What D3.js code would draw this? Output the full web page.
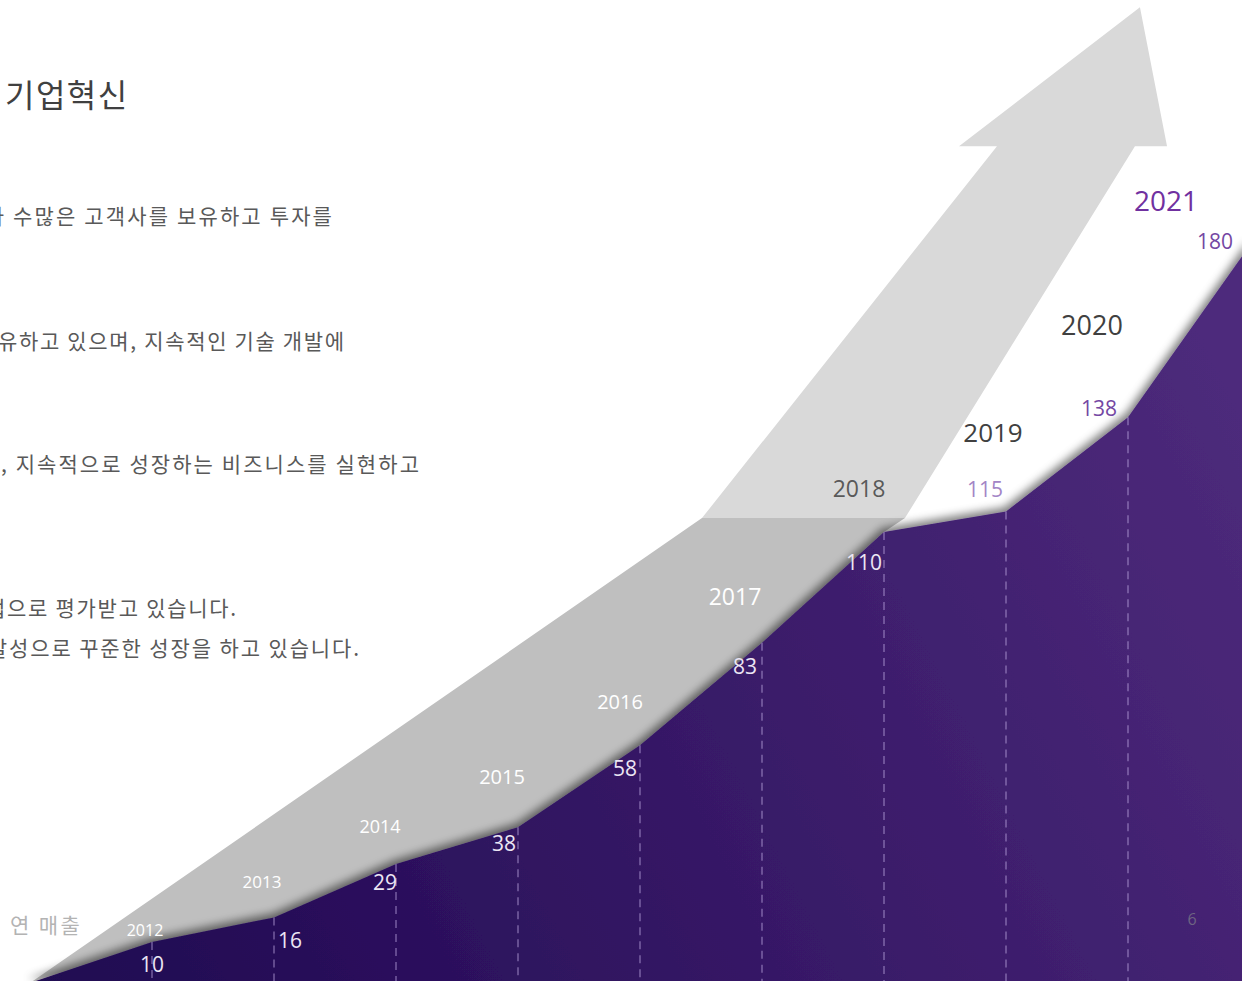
<!DOCTYPE html>
<html><head><meta charset="utf-8">
<script src="https://cdn.jsdelivr.net/npm/d3@7"></script>
<style>html,body{margin:0;padding:0;background:#fff;overflow:hidden}</style>
</head><body>
<svg id="c" width="1242" height="981"></svg>
<script>
// ---------- data ----------
const years = [2011, 2012, 2013, 2014, 2015, 2016, 2017, 2018, 2019, 2020, 2021];
const revenue = [0, 10, 16, 29, 38, 58, 83, 110, 115, 138, 180];
const yearLabels = ["2012", "2013", "2014", "2015", "2016", "2017", "2018", "2019", "2020", "2021"];
const valueLabels = ["10", "16", "29", "38", "58", "83", "110", "115", "138", "180"];
const titleText = "기업혁신";
const bodyPrefix = ["가 ", "보", "하며", "업", "발"];
const bodyText = ["수많은 고객사를 보유하고 투자를", "유하고 있으며, 지속적인 기술 개발에", ", 지속적으로 성장하는 비즈니스를 실현하고", "으로 평가받고 있습니다.", "성으로 꾸준한 성장을 하고 있습니다."];
const axisTitle = "연 매출";
const pageNumber = "6";

// ---------- layout ----------
const KR = "'Noto Sans CJK KR','Noto Sans',sans-serif";
const LAT = "'Open Sans','Noto Sans',sans-serif";
const svg = d3.select("#c");
const x = d3.scaleLinear().domain([2011, 2021]).range([30, 1250]);
const y = d3.scaleLinear().domain([0, 180]).range([983, 245]);

// ribbon / arrow decoration, expressed in chart (year, value) space
const ribbonShape = [[2011, 0], [2016.508, 113.4], [2018.172, 113.4], [2018, 110], [2018, 0]];
const arrowShape = [[2016.508, 113.4], [2018.926, 204.1], [2018.615, 204.1], [2020.098, 238.0],
                    [2020.320, 204.1], [2020.057, 204.1], [2018.172, 113.4]];

const defs = svg.append("defs");
const g = defs.append("linearGradient").attr("id", "pg")
  .attr("gradientUnits", "userSpaceOnUse").attr("x1", 0).attr("y1", 981).attr("x2", 1242).attr("y2", 350);
g.append("stop").attr("offset", 0).attr("stop-color", "#1e0650");
g.append("stop").attr("offset", 1).attr("stop-color", "#4e2b7c");

const f = defs.append("filter").attr("id", "sh").attr("x", "-10%").attr("y", "-20%").attr("width", "120%").attr("height", "140%");
f.append("feGaussianBlur").attr("in", "SourceAlpha").attr("stdDeviation", 4.5);
f.append("feOffset").attr("dx", -2).attr("dy", -4).attr("result", "b");
f.append("feFlood").attr("flood-color", "#000").attr("flood-opacity", 0.5);
f.append("feComposite").attr("in2", "b").attr("operator", "in");
const fm = f.append("feMerge");
fm.append("feMergeNode");
fm.append("feMergeNode").attr("in", "SourceGraphic");

const poly = d3.line().x(d => x(d[0])).y(d => y(d[1]));
svg.append("path").attr("d", poly(ribbonShape) + "Z").attr("fill", "#bfbfbf");
svg.append("path").attr("d", poly(arrowShape) + "Z").attr("fill", "#d9d9d9");

const series = years.map((yr, i) => ({ yr, v: revenue[i] }));
const area = d3.area().x(d => x(d.yr)).y0(y(0)).y1(d => y(d.v));
svg.append("path").datum(series).attr("d", area).attr("fill", "url(#pg)").attr("filter", "url(#sh)");

// dashed drop lines
svg.append("g").selectAll("line").data(series.slice(1)).join("line")
  .attr("x1", d => x(d.yr)).attr("x2", d => x(d.yr))
  .attr("y1", d => y(d.v)).attr("y2", y(0))
  .attr("stroke", "rgba(190,170,225,0.6)").attr("stroke-width", 1.3).attr("stroke-dasharray", "8,6");

// year labels: [dx, dy (centre), size, colour]
const yearStyle = [[-7, -12, 16, "#fff"], [-12, -36, 17, "#fff"], [-16, -38, 18, "#fff"], [-16, -50, 20, "#fff"],
  [-20, -43, 20, "#fff"], [-27, -46, 23, "#fff"], [-25, -43, 23, "#595959"], [-13, -79, 26, "#404040"],
  [-36, -92, 27, "#404040"], [-84, -44, 28, "#7030a0"]];
svg.append("g").selectAll("text").data(series.slice(1)).join("text")
  .attr("x", (d, i) => x(d.yr) + yearStyle[i][0])
  .attr("y", (d, i) => y(d.v) + yearStyle[i][1] + 0.36 * yearStyle[i][2])
  .attr("text-anchor", "middle").attr("font-family", LAT)
  .attr("font-size", (d, i) => yearStyle[i][2]).attr("fill", (d, i) => yearStyle[i][3])
  .text((d, i) => yearLabels[i]);

// value labels: [anchor, dx, dy (centre), colour]
const valStyle = [["middle", 0, 22, "#ece6f4"], ["start", 4, 23, "#ece6f4"], ["end", 1, 18, "#ece6f4"],
  ["end", -2, 16, "#ece6f4"], ["end", -3, 23, "#ece6f4"], ["end", -5, 24, "#ece6f4"], ["end", -2, 30, "#ece6f4"],
  ["end", -3, -22, "#a385c6"], ["end", -11, -9, "#7447a3"], ["end", -17, -4, "#7447a3"]];
svg.append("g").selectAll("text").data(series.slice(1)).join("text")
  .attr("x", (d, i) => x(d.yr) + valStyle[i][1])
  .attr("y", (d, i) => y(d.v) + valStyle[i][2] + 0.36 * 21)
  .attr("text-anchor", (d, i) => valStyle[i][0]).attr("font-family", LAT)
  .attr("font-size", 21).attr("fill", (d, i) => valStyle[i][3])
  .text((d, i) => valueLabels[i]);

// fit a Korean text run between L and R by letter-spacing, with a hidden/cut prefix
function fitText(prefix, rest, L, R, B, size, color) {
  const el = svg.append("text").attr("y", B).attr("font-family", KR).attr("font-size", size)
    .attr("fill", color).text(prefix + rest);
  const n = el.node();
  const full = n.getComputedTextLength();
  const pre = prefix.length ? n.getSubStringLength(0, prefix.length) : 0;
  const ls = ((R - L) - (full - pre)) / Math.max(1, rest.length - 0.5);
  el.attr("letter-spacing", ls);
  el.attr("x", L - pre - prefix.length * ls);
}

fitText("", titleText, 5, 128, 107, 32, "#404040");
const bodyLayout = [[13, 333, 224], [-2, 345, 349], [1, 420, 472], [7, 237, 616], [9, 360, 656]];
bodyText.forEach((t, i) => {
  const [L, R, B] = bodyLayout[i];
  fitText(bodyPrefix[i], t, L, R, B, 21, "#595959");
});
fitText("", axisTitle, 10, 81, 933, 21, "#b3b3b3");

svg.append("text").attr("x", 1192).attr("y", 925).attr("text-anchor", "middle").attr("font-family", LAT)
  .attr("font-size", 16).attr("fill", "#6e6482").text(pageNumber);
</script>
</body></html>
